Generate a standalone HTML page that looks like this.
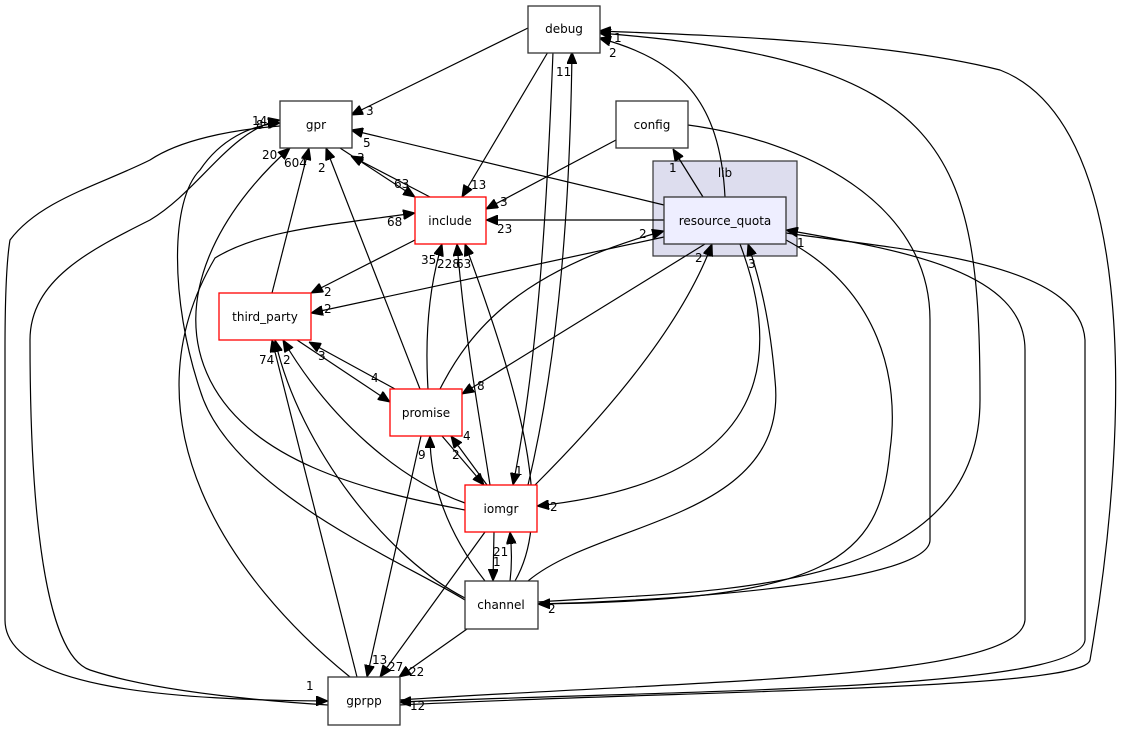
<!DOCTYPE html>
<html><head><meta charset="utf-8"><style>
html,body{margin:0;padding:0;background:#fff;width:1139px;height:731px;overflow:hidden}
svg{display:block}
text{font-family:"DejaVu Sans","Liberation Sans",sans-serif;font-size:12px;fill:#000}
path{fill:none;stroke:#000;stroke-width:1.2}
</style></head><body>
<svg width="1139" height="731" viewBox="0 0 1139 731" xmlns="http://www.w3.org/2000/svg">
<defs>
<marker id="a" viewBox="0 0 12 10" refX="12" refY="5" markerWidth="12" markerHeight="10" markerUnits="userSpaceOnUse" orient="auto">
<path d="M0,0 L12,5 L0,10 z" style="fill:#000;stroke:#000;stroke-width:1"/>
</marker>
</defs>
<rect x="653" y="161" width="144" height="95" fill="#ddddee" stroke="#333" stroke-width="1.2"/>
<text x="725" y="177" text-anchor="middle">lib</text>
<g marker-end="url(#a)">
<path d="M528,28 L351,115"/>
<path d="M548,52 L462,197"/>
<path d="M553,52 C548,180 540,350 513,485"/>
<path d="M528,485 C560,350 570,200 572,52"/>
<path d="M725,197 C720,100 680,60 599,38"/>
<path d="M538,602 C700,590 980,600 980,400 C980,150 950,60 599,33"/>
<path d="M399,705 C700,690 1085,690 1090,660 C1135,400 1130,120 1000,70 C880,40 700,35 599,31"/>
<path d="M616,140 L486,209"/>
<path d="M688,125 C800,140 930,200 930,320 L930,540 C930,580 700,600 538,604"/>
<path d="M703,197 L673,149"/>
<path d="M664,205 L351,130"/>
<path d="M664,220 L486,220"/>
<path d="M664,237 L311,313"/>
<path d="M705,244 L462,394"/>
<path d="M440,389 C470,330 520,270 664,231"/>
<path d="M535,485 C600,420 680,330 712,244"/>
<path d="M740,244 C780,350 780,480 537,506"/>
<path d="M528,581 C600,520 790,520 775,380 C770,320 760,280 748,244"/>
<path d="M786,240 C880,290 900,380 890,450 C880,560 830,600 538,604"/>
<path d="M786,233 C900,250 1080,260 1085,340 L1085,640 C1080,690 700,690 399,702"/>
<path d="M399,700 C700,680 1020,680 1025,620 L1025,350 C1025,270 900,250 786,230"/>
<path d="M340,148 L415,197"/>
<path d="M430,197 L351,156"/>
<path d="M415,240 L311,293"/>
<path d="M272,293 L309,148"/>
<path d="M420,389 L326,148"/>
<path d="M428,389 C425,340 428,290 442,244"/>
<path d="M490,485 C480,420 465,340 457,244"/>
<path d="M515,581 C550,520 530,420 465,244"/>
<path d="M350,677 C230,580 120,420 215,258 C260,230 330,225 415,213"/>
<path d="M297,340 L390,402"/>
<path d="M395,389 L309,342"/>
<path d="M465,503 C400,480 330,420 283,340"/>
<path d="M465,598 C390,560 300,450 275,340"/>
<path d="M357,677 L272,340"/>
<path d="M442,436 L484,485"/>
<path d="M487,485 L451,436"/>
<path d="M421,436 L367,677"/>
<path d="M485,581 C445,530 430,480 430,436"/>
<path d="M494,532 L493,581"/>
<path d="M510,581 C512,565 512,550 510,532"/>
<path d="M485,532 L380,677"/>
<path d="M467,629 L399,677"/>
<path d="M465,510 C360,490 250,460 210,380 C170,300 220,210 290,148"/>
<path d="M465,600 C400,560 230,490 200,390 C170,300 170,200 200,170 C220,140 250,125 280,123"/>
<path d="M328,705 C250,700 150,690 90,670 C30,650 30,400 30,340 C30,280 90,250 150,220 C200,190 230,130 280,120"/>
<path d="M280,126 C230,130 180,140 150,160 C100,185 40,200 10,240 C5,270 5,330 5,350 L5,620 C5,690 180,700 328,701"/>
</g>
<g stroke="#333" stroke-width="1.3">
<rect x="528" y="6" width="72" height="47" fill="#fff"/>
<rect x="280" y="101" width="72" height="47" fill="#fff"/>
<rect x="616" y="101" width="72" height="47" fill="#fff"/>
<rect x="664" y="197" width="122" height="47" fill="#eeeeff"/>
<rect x="415" y="197" width="71" height="47" fill="#fff" stroke="#ff0000"/>
<rect x="219" y="293" width="92" height="47" fill="#fff" stroke="#ff0000"/>
<rect x="390" y="389" width="72" height="47" fill="#fff" stroke="#ff0000"/>
<rect x="465" y="485" width="72" height="47" fill="#fff" stroke="#ff0000"/>
<rect x="465" y="581" width="73" height="48" fill="#fff"/>
<rect x="328" y="677" width="72" height="48" fill="#fff"/>
</g>
<g text-anchor="middle">
<text x="564" y="33">debug</text>
<text x="316" y="129">gpr</text>
<text x="652" y="129">config</text>
<text x="725" y="225">resource_quota</text>
<text x="450" y="225">include</text>
<text x="265" y="321">third_party</text>
<text x="426" y="417">promise</text>
<text x="501" y="513">iomgr</text>
<text x="501" y="609">channel</text>
<text x="364" y="705">gprpp</text>
</g>
<g>
<text x="366" y="115">3</text>
<text x="471" y="189">13</text>
<text x="515" y="475">1</text>
<text x="556" y="76">11</text>
<text x="614" y="42">1</text>
<text x="609" y="57">2</text>
<text x="500" y="206">3</text>
<text x="669" y="172">1</text>
<text x="363" y="147">5</text>
<text x="497" y="233">23</text>
<text x="324" y="313">2</text>
<text x="477" y="390">8</text>
<text x="639" y="238">2</text>
<text x="695" y="262">2</text>
<text x="550" y="511">2</text>
<text x="748" y="268">3</text>
<text x="548" y="613">2</text>
<text x="410" y="710">12</text>
<text x="797" y="247">1</text>
<text x="394" y="188">63</text>
<text x="357" y="162">3</text>
<text x="324" y="296">2</text>
<text x="284" y="167">604</text>
<text x="318" y="172">2</text>
<text x="421" y="264">35</text>
<text x="437" y="268">228</text>
<text x="456" y="268">63</text>
<text x="387" y="226">68</text>
<text x="371" y="382">4</text>
<text x="318" y="360">3</text>
<text x="283" y="364">2</text>
<text x="259" y="364">74</text>
<text x="463" y="440">4</text>
<text x="452" y="459">2</text>
<text x="418" y="459">9</text>
<text x="372" y="664">13</text>
<text x="493" y="566">1</text>
<text x="493" y="556">21</text>
<text x="388" y="671">27</text>
<text x="409" y="676">22</text>
<text x="262" y="159">20</text>
<text x="256" y="129">8</text>
<text x="252" y="125">14</text>
<text x="306" y="690">1</text>
</g>
</svg>
</body></html>
